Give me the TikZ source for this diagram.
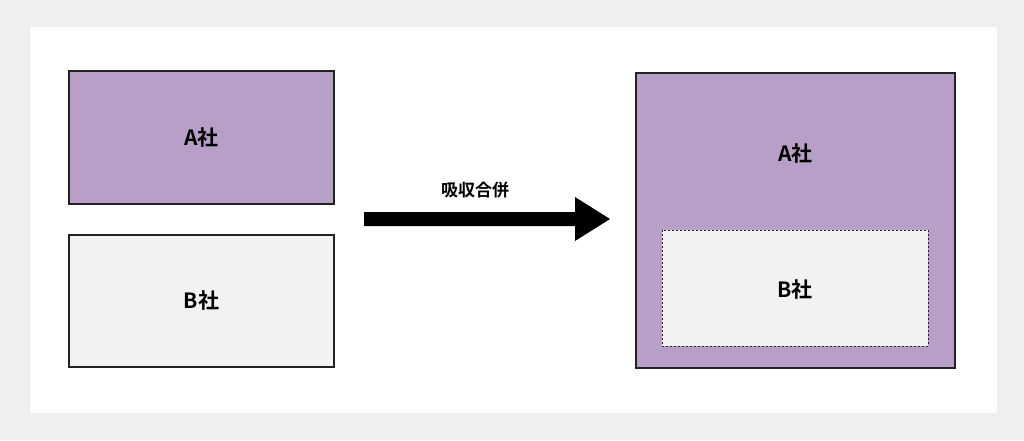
\documentclass[tikz,border=0pt]{standalone}
\usepackage{fontspec}
\setmainfont{Noto Sans CJK JP}[BoldFont={Noto Sans CJK JP Bold}]
\definecolor{purp}{HTML}{B89FC8}
\definecolor{lgray}{HTML}{F2F2F2}
\definecolor{bg}{HTML}{EFEFEF}
\definecolor{edge}{HTML}{222222}
\begin{document}
\begin{tikzpicture}[x=1pt,y=-1pt,
  box/.style={draw=edge,line width=1.6pt},
  lbl/.style={font=\fontsize{21}{24}\selectfont\bfseries,text=black}]
\fill[bg] (0,0) rectangle (1024,440);
\useasboundingbox (0,0) rectangle (1024,440);
\fill[white] (30,27) rectangle (997,413);
\draw[box,fill=purp] (69,71) rectangle (334,204);
\node[lbl] (a) at (201.5,137.5) {A社};
\draw[box,fill=lgray] (69,235) rectangle (334,367);
\node[lbl] (b) at (201.5,301) {B社};
\draw[box,fill=purp] (636,73) rectangle (955,368);
\node[lbl] (a2) at (795.5,154) {A社};
\draw[fill=lgray,draw=edge,line width=1pt,dash pattern=on 2pt off 2pt] (662,230) rectangle (928,346);
\node[lbl] (b2) at (795,290) {B社};
\coordinate (s) at (364,219);
\coordinate (e) at (610,219);
\fill[black] (364,212) -- (575,212) -- (575,197) -- (e) -- (575,241) -- (575,226) -- (364,226) -- cycle;
\node[font=\fontsize{17}{20}\selectfont\bfseries] (m) at (475,190) {吸収合併};
\end{tikzpicture}
\end{document}
